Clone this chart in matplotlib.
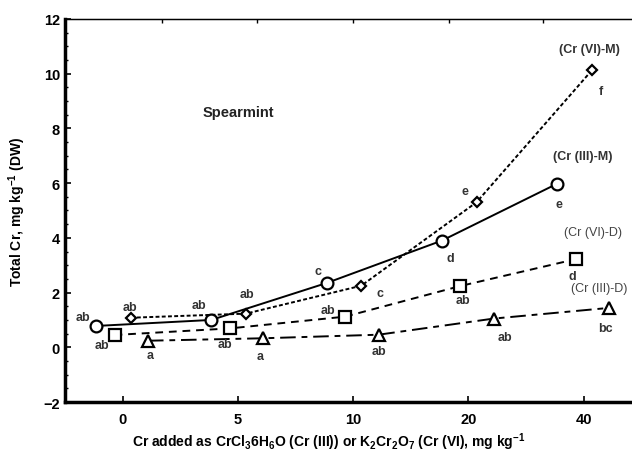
import numpy as np
import matplotlib
matplotlib.use("Agg")
import matplotlib.pyplot as plt
from matplotlib.ticker import MultipleLocator

plt.rcParams['font.family'] = ['Liberation Sans', 'DejaVu Sans']
plt.rcParams['mathtext.fontset'] = 'custom'
plt.rcParams['mathtext.bf'] = 'Liberation Sans:bold'
plt.rcParams['mathtext.rm'] = 'Liberation Sans:bold'
plt.rcParams['mathtext.default'] = 'bf'

# data
doses = ["0", "5", "10", "20", "40"]
cr3_m = [0.78, 1.00, 2.35, 3.90, 5.98]
cr6_m = [1.08, 1.23, 2.25, 5.30, 10.12]
cr6_d = [0.45, 0.69, 1.12, 2.24, 3.22]
cr3_d = [0.24, 0.33, 0.46, 1.05, 1.44]
let_cr3_m = ["ab", "ab", "c", "d", "e"]
let_cr6_m = ["ab", "ab", "c", "e", "f"]
let_cr6_d = ["ab", "ab", "ab", "ab", "d"]
let_cr3_d = ["a", "a", "ab", "ab", "bc"]

idx = np.arange(len(doses))

fig = plt.figure(figsize=(6.32, 4.56), dpi=100)
ax = fig.add_axes([0.1028, 0.1162, 0.912, 0.84])

# series: values, letters, x shift, marker, size, linestyle, letter offsets (px)
series = [
    (cr3_m, let_cr3_m, -0.23, 'o', 8.5, '-',
     [(-13, 9), (-12, 15), (-9, 12), (8, -17), (2, -20)]),
    (cr6_m, let_cr6_m, 0.07, 'D', 5, (0, (2, 1.2)),
     [(-1, 11), (1, 20), (19, -7), (-12, 11), (9, -21)]),
    (cr6_d, let_cr6_d, -0.07, 's', 8.5, (0, (4, 3)),
     [(-13, -10), (-5, -16), (-17, 7), (3, -14), (-3, -17)]),
    (cr3_d, let_cr3_d, 0.22, '^', 8, (0, (8, 3, 3, 3)),
     [(2, -14), (-3, -18), (0, -16), (11, -18), (-4, -20)]),
]

for vals, lets, shift, mk, ms, ls, offs in series:
    xs = idx + shift
    ax.plot(xs, vals, color='black', lw=1.4, ls=ls, zorder=2)
    ax.plot(xs, vals, ls='none', marker=mk, ms=ms, mfc='white', mec='black',
            mew=1.6, zorder=3)
    for x, y, t, (dx, dy) in zip(xs, vals, lets, offs):
        ax.annotate(t, (x, y), xytext=(dx, dy), textcoords='offset pixels',
                    ha='center', va='center', fontsize=9, fontweight='bold',
                    color='#333333')

ax.text(4.05, 10.9, "(Cr (VI)-M)", ha='center', va='center', fontsize=9,
        fontweight='bold', color='#333333')
ax.text(3.99, 7.0, "(Cr (III)-M)", ha='center', va='center', fontsize=9,
        fontweight='bold', color='#333333')
ax.text(4.08, 4.22, "(Cr (VI)-D)", ha='center', va='center', fontsize=9,
        color='#444444')
ax.text(4.13, 2.17, "(Cr (III)-D)", ha='center', va='center', fontsize=9,
        color='#444444')
ax.text(1.0, 8.6, "Spearmint", ha='center', va='center', fontsize=10.5,
        fontweight='bold', color='#222222')

ax.set_xlim(-0.5, 4.5)
ax.set_ylim(-2, 12)
ax.set_xticks(idx)
ax.set_xticklabels(doses)
ax.set_yticks(np.arange(-2, 13, 2))
ax.yaxis.set_minor_locator(MultipleLocator(0.5))
ax.tick_params(direction='in', labelsize=10.5, width=1.2, length=4)
ax.tick_params(axis='x', pad=7)
ax.tick_params(which='minor', direction='in', length=2, width=1)
for lab in ax.get_xticklabels() + ax.get_yticklabels():
    lab.set_fontweight('bold')

ax.spines['left'].set_linewidth(2.5)
ax.spines['bottom'].set_linewidth(2.5)
ax.spines['top'].set_linewidth(1)
ax.spines['right'].set_visible(False)

top = ax.twiny()
top.set_xlim(ax.get_xlim())
top.set_xticks([0.338, 1.162, 1.995, 2.83, 3.65])
top.set_xticklabels([])
top.tick_params(direction='in', length=3, width=1)
top.spines['right'].set_visible(False)

ax.set_ylabel("Total Cr, mg kg$^{-1}$ (DW)", fontsize=10,
              fontweight='bold')
ax.yaxis.set_label_coords(-0.065, 0.5)
ax.set_xlabel("Cr added as CrCl$_{3}$6H$_{6}$O (Cr (III)) or "
              "K$_{2}$Cr$_{2}$O$_{7}$ (Cr (VI), mg kg$^{-1}$",
              fontsize=10, fontweight='bold')
ax.xaxis.set_label_coords(0.457, -0.075)

fig.savefig("out.png", dpi=100)
